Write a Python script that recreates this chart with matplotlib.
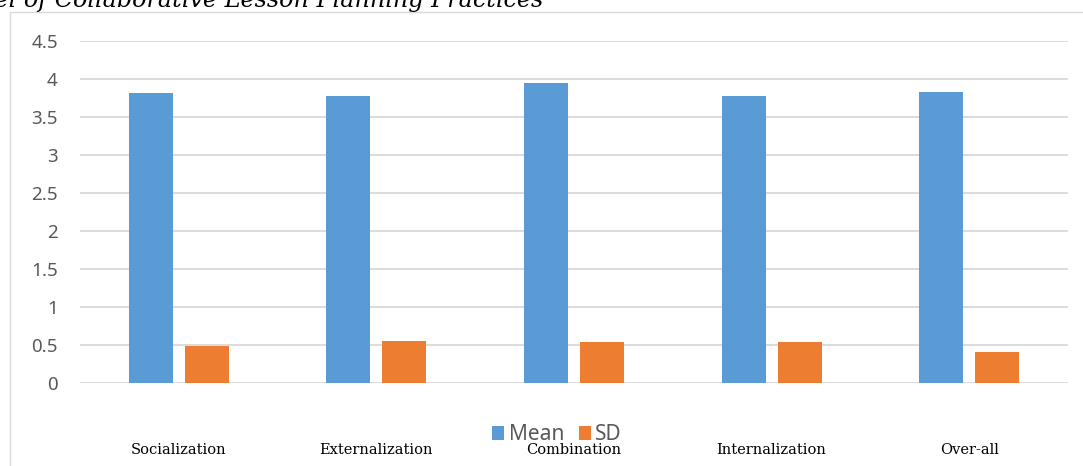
import matplotlib
matplotlib.use("Agg")
import matplotlib.pyplot as plt
import numpy as np
from matplotlib.patches import Rectangle

categories = ["Socialization", "Externalization", "Combination", "Internalization", "Over-all"]
mean_vals = [3.81, 3.77, 3.95, 3.77, 3.83]
sd_vals = [0.49, 0.55, 0.54, 0.54, 0.41]
series_names = ["Mean", "SD"]
yticks = [0, 0.5, 1, 1.5, 2, 2.5, 3, 3.5, 4, 4.5]
ytick_labels = ["0", "0.5", "1", "1.5", "2", "2.5", "3", "3.5", "4", "4.5"]
title = "Level of Collaborative Lesson Planning Practices"

W, H = 1083, 466
fig = plt.figure(figsize=(W / 100, H / 100), dpi=100)

# outer chart frame
fig.patches.append(Rectangle((10 / W, -0.1), 1.2, 1 - 12 / H + 0.1, transform=fig.transFigure,
                             fill=False, edgecolor="#d9d9d9", linewidth=1.0))

ax = fig.add_axes([80 / W, 1 - 383 / H, (1068 - 80) / W, (383 - 41) / H])
x = np.arange(len(categories))
bw = 0.223
off = 0.142
ax.bar(x - off, mean_vals, bw, color="#5B9BD5", label=series_names[0], zorder=3)
ax.bar(x + off, sd_vals, bw, color="#ED7D31", label=series_names[1], zorder=3)

ax.set_xlim(-0.5, len(categories) - 0.5)
ax.set_ylim(0, 4.5)
ax.set_yticks(yticks, ytick_labels)
ax.yaxis.grid(True, color="#d9d9d9", linewidth=1.3, zorder=0)
ax.set_axisbelow(True)
for s in ax.spines.values():
    s.set_visible(False)
ax.tick_params(axis="y", length=0, pad=16, labelsize=13.5, labelcolor="#595959")
ax.set_xticks(x, categories, fontfamily="DejaVu Serif", fontsize=10.5)
ax.tick_params(axis="x", length=0, pad=43, labelcolor="#000000")
for lbl in ax.get_yticklabels():
    lbl.set_fontfamily("Noto Sans")

leg = ax.legend(loc="center", bbox_to_anchor=(557 / W, 1 - 435 / H), bbox_transform=fig.transFigure,
                ncol=2, frameon=False, handlelength=0.58, handleheight=0.65,
                handletextpad=0.2, columnspacing=0.7, borderpad=0,
                prop={"family": "Noto Sans", "size": 15})
for t in leg.get_texts():
    t.set_color("#595959")

fig.text(-49 / W, 1 - 7.5 / H, title, fontfamily="DejaVu Serif", fontstyle="italic",
         fontsize=17.2, va="baseline", ha="left", color="#000000")

fig.savefig("out.png", dpi=100)
